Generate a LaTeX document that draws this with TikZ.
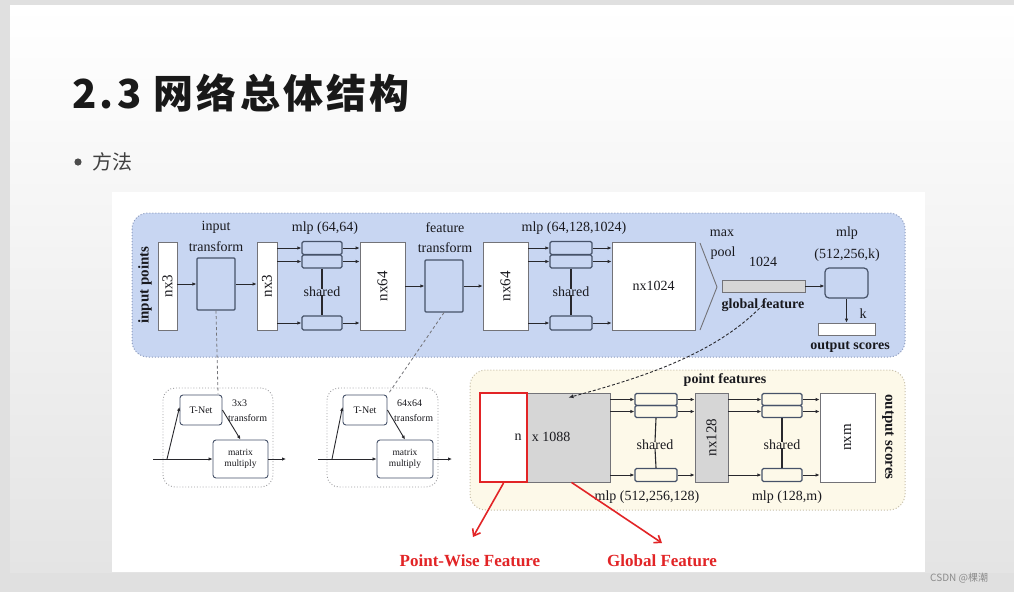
\documentclass[tikz,border=0pt]{standalone}
\usepackage{fontspec}
\setmainfont{Liberation Serif}
\newfontfamily\cjk{Noto Sans CJK SC}
\usetikzlibrary{arrows.meta,calc}
\definecolor{outerbg}{RGB}{224,224,224}
\definecolor{slidebot}{RGB}{228,228,228}
\definecolor{bluebg}{RGB}{200,214,242}
\definecolor{blueedge}{RGB}{140,155,190}
\definecolor{creambg}{RGB}{253,249,233}
\definecolor{creamedge}{RGB}{200,192,170}
\definecolor{linec}{RGB}{40,40,45}
\definecolor{boxedge}{RGB}{115,115,120}
\definecolor{sboxedge}{RGB}{70,82,105}
\definecolor{grayfill}{RGB}{214,214,214}
\definecolor{txt}{RGB}{25,25,30}
\definecolor{redc}{RGB}{226,36,38}
\definecolor{titlec}{RGB}{25,25,25}
\tikzset{
  lbl/.style={font=\fontsize{14}{15}\selectfont, text=txt, inner sep=0pt},
  blbl/.style={font=\bfseries\fontsize{14}{15}\selectfont, text=txt, inner sep=0pt},
  slbl/.style={font=\fontsize{10}{11}\selectfont, text=txt, inner sep=0pt, align=center},
  bigbox/.style={draw=boxedge, fill=white, line width=0.8pt, inner sep=0pt},
  sbox/.style={draw=sboxedge, line width=1.3pt, rounded corners=1.5pt, inner sep=0pt},
  tbox/.style={draw=sboxedge, line width=1.2pt, rounded corners=3pt, inner sep=0pt},
  arr/.style={-{Latex[length=4pt,width=3.5pt]}, line width=0.9pt, draw=linec},
  conn/.style={line width=1.1pt, draw=linec},
  dashc/.style={dashed, dash pattern=on 3pt off 2.5pt, line width=0.8pt, draw=boxedge},
  redarr/.style={-{Straight Barb[length=6pt,width=9pt]}, line width=1.6pt, draw=redc},
}
\begin{document}
\begin{tikzpicture}[x=1pt,y=-1pt]
\useasboundingbox (0,0) rectangle (1014,592);
% backgrounds
\fill[outerbg] (0,0) rectangle (1014,592);
\shade[top color=white, bottom color=slidebot] (10,5) rectangle (1014,572);
\fill[white] (112,192) rectangle (925,572);
% title
\node[anchor=base west, font=\cjk\bfseries\fontsize{40}{44}\selectfont\addfontfeature{LetterSpace=8}, text=titlec, inner sep=0pt] (title) at (72,108) {2.3 网络总体结构};
\fill[black!70] (78,162) circle (3.6);
\node[anchor=west, font=\cjk\fontsize{20}{22}\selectfont, text=black!75, inner sep=0pt] (method) at (92,162) {方法};
% watermark
\node[anchor=west, font=\cjk\fontsize{10}{11}\selectfont, text=black!45, inner sep=0pt] (wm) at (930,578) {CSDN @棵潮};

% region backgrounds
\draw[fill=bluebg, draw=blueedge, dotted, line width=1pt, rounded corners=16pt] (132,213) rectangle (905,357);
\draw[fill=creambg, draw=creamedge, dotted, line width=1pt, rounded corners=16pt] (470,370) rectangle (905,510);

% ---------- classification network ----------
\node[blbl, rotate=90, font=\bfseries\fontsize{15}{16}\selectfont] (inpts) at (145,285) {input points};
\node[bigbox, minimum width=19, minimum height=88] (nx3a) at (167.5,286) {};
\node[lbl, rotate=90, font=\fontsize{15}{16}\selectfont] (nx3at) at (nx3a) {nx3};
\node[tbox, minimum width=38, minimum height=52, rounded corners=1pt] (itrans) at (216,284) {};
\node[lbl] (itl1) at (216,227) {input};
\node[lbl] (itl2) at (216,247) {transform};
\node[bigbox, minimum width=20, minimum height=88] (nx3b) at (267,286) {};
\node[lbl, rotate=90, font=\fontsize{15}{16}\selectfont] (nx3bt) at (nx3b) {nx3};
\draw[arr] (nx3a.east |- itrans.west) -- (itrans.west);
\draw[arr] (itrans.east) -- (nx3b.west |- itrans.east);

% mlp (64,64)
\node[lbl] (mlp1l) at (325,228) {mlp (64,64)};
\node[sbox, minimum width=40, minimum height=13] (m1a) at (322,248) {};
\node[sbox, minimum width=40, minimum height=13] (m1b) at (322,261.5) {};
\node[sbox, minimum width=40, minimum height=14] (m1c) at (322,323) {};
\node[lbl] (sh1) at (322,292) {shared};
\node[bigbox, minimum width=45, minimum height=88] (nx64a) at (382.5,286) {};
\node[lbl, rotate=90, font=\fontsize{15}{16}\selectfont] (nx64at) at (nx64a) {nx64};
\foreach \b in {m1a,m1b,m1c}{
  \draw[arr] (nx3b.east |- \b.west) -- (\b.west);
  \draw[arr] (\b.east) -- (nx64a.west |- \b.east);
}
\draw[conn] (m1b.south) -- ([yshift=-2pt]sh1.north);
\draw[conn] ([yshift=2pt]sh1.south) -- (m1c.north);

% feature transform
\node[tbox, minimum width=38, minimum height=52, rounded corners=1pt] (ftrans) at (444,286) {};
\node[lbl] (ftl1) at (445,228) {feature};
\node[lbl] (ftl2) at (445,248) {transform};
\node[bigbox, minimum width=45, minimum height=88] (nx64b) at (505.5,286) {};
\node[lbl, rotate=90, font=\fontsize{15}{16}\selectfont] (nx64bt) at (nx64b) {nx64};
\draw[arr] (nx64a.east) -- (ftrans.west);
\draw[arr] (ftrans.east) -- (nx64b.west);

% mlp (64,128,1024)
\node[lbl] (mlp2l) at (574,228) {mlp (64,128,1024)};
\node[sbox, minimum width=42, minimum height=13] (m2a) at (571,248) {};
\node[sbox, minimum width=42, minimum height=13] (m2b) at (571,261.5) {};
\node[sbox, minimum width=42, minimum height=14] (m2c) at (571,323) {};
\node[lbl] (sh2) at (571,292) {shared};
\node[bigbox, minimum width=83, minimum height=88] (nx1024) at (653.5,286) {};
\node[lbl] (nx1024t) at (nx1024) {nx1024};
\foreach \b in {m2a,m2b,m2c}{
  \draw[arr] (nx64b.east |- \b.west) -- (\b.west);
  \draw[arr] (\b.east) -- (nx1024.west |- \b.east);
}
\draw[conn] (m2b.south) -- ([yshift=-2pt]sh2.north);
\draw[conn] ([yshift=2pt]sh2.south) -- (m2c.north);

% max pool
\coordinate (mpa) at (700,243);
\coordinate (mpb) at (717,287);
\coordinate (mpc) at (700,330);
\draw[line width=0.9pt, draw=boxedge] (mpa) -- (mpb) -- (mpc);
\node[lbl] (maxl) at (722,233) {max};
\node[lbl] (pooll) at (723,253) {pool};
\node[lbl] (l1024) at (763,262) {1024};
\node[draw=boxedge, fill=grayfill, line width=0.8pt, minimum width=83, minimum height=12, inner sep=0pt] (gf) at (763.5,286) {};
\node[blbl] (gfl) at (763,305) {global feature};
\node[tbox, minimum width=43, minimum height=30, rounded corners=4pt] (mlp3) at (846.5,283) {};
\node[lbl] (mlp3l1) at (847,233) {mlp};
\node[lbl] (mlp3l2) at (847,255) {(512,256,k)};
\draw[arr] (gf.east) -- (mlp3.west |- gf.east);
\node[draw=boxedge, fill=white, line width=0.8pt, minimum width=57, minimum height=12, inner sep=0pt] (outbar) at (846.5,329) {};
\draw[arr] (mlp3.south) -- (outbar.north);
\node[lbl] (kl) at (863,314) {k};
\node[blbl] (outl) at (850,347) {output scores};

% ---------- T-Net insets ----------
\node[draw=boxedge!70, dotted, line width=0.9pt, rounded corners=12pt, minimum width=110, minimum height=99] (tb1) at (218,437.5) {};
\node[tbox, minimum width=42, minimum height=30, line width=0.9pt] (tnet1) at (201,410) {};
\node[slbl] (tnet1t) at (tnet1) {T-Net};
\node[tbox, minimum width=55, minimum height=38, line width=0.9pt] (mm1) at (240.5,459) {};
\node[slbl, font=\fontsize{9.5}{11}\selectfont] (mm1t) at (mm1) {matrix\\multiply};
\node[slbl, anchor=west] (tf1a) at (232,403) {3x3};
\node[slbl, anchor=west] (tf1b) at (228,418) {transform};
\coordinate (in1) at (153,459);
\coordinate (br1) at (167,459);
\coordinate (out1) at (286,459);
\draw[arr] (in1) -- (mm1.west);
\draw[arr] (br1) -- ([yshift=3pt]tnet1.west);
\draw[arr] (tnet1.east) -- (mm1.north);
\draw[arr] (mm1.east) -- (out1);

\node[draw=boxedge!70, dotted, line width=0.9pt, rounded corners=12pt, minimum width=111, minimum height=99] (tb2) at (382.5,437.5) {};
\node[tbox, minimum width=44, minimum height=30, line width=0.9pt] (tnet2) at (365,410) {};
\node[slbl] (tnet2t) at (tnet2) {T-Net};
\node[tbox, minimum width=56, minimum height=38, line width=0.9pt] (mm2) at (405,459) {};
\node[slbl, font=\fontsize{9.5}{11}\selectfont] (mm2t) at (mm2) {matrix\\multiply};
\node[slbl, anchor=west] (tf2a) at (397,403) {64x64};
\node[slbl, anchor=west] (tf2b) at (394,418) {transform};
\coordinate (in2) at (318,459);
\coordinate (br2) at (332,459);
\coordinate (out2) at (452,459);
\draw[arr] (in2) -- (mm2.west);
\draw[arr] (br2) -- ([yshift=3pt]tnet2.west);
\draw[arr] (tnet2.east) -- (mm2.north);
\draw[arr] (mm2.east) -- (out2);

\draw[dashc] (itrans.south) -- ([yshift=-6pt]tb1.north);
\draw[dashc] (ftrans.south) -- ([xshift=6pt,yshift=-6pt]tb2.north);

% ---------- segmentation network ----------
\node[blbl] (pfl) at (725,380) {point features};
\node[draw=boxedge, fill=grayfill, line width=0.8pt, minimum width=83, minimum height=89, inner sep=0pt] (gray) at (568.5,437.5) {};
\node[draw=redc, fill=white, line width=2.2pt, minimum width=47, minimum height=89, inner sep=0pt] (redbox) at (503.5,437.5) {};
\node[lbl] (nl) at (518,437) {n};
\node[lbl] (x1088) at (551,437) {x 1088};

\node[sbox, minimum width=42, minimum height=12] (s1a) at (656,399.5) {};
\node[sbox, minimum width=42, minimum height=12] (s1b) at (656,411.5) {};
\node[sbox, minimum width=42, minimum height=13] (s1c) at (656,475) {};
\node[lbl] (sh3) at (655,445) {shared};
\node[draw=boxedge, fill=grayfill, line width=0.8pt, minimum width=33, minimum height=89, inner sep=0pt] (nx128) at (711.5,437.5) {};
\node[lbl, rotate=90, font=\fontsize{15}{16}\selectfont] (nx128t) at (nx128) {nx128};
\foreach \b in {s1a,s1b,s1c}{
  \draw[arr] (gray.east |- \b.west) -- (\b.west);
  \draw[arr] (\b.east) -- (nx128.west |- \b.east);
}
\draw[conn] (s1b.south) -- ([yshift=-2pt]sh3.north);
\draw[conn] ([yshift=2pt]sh3.south) -- (s1c.north);
\node[lbl] (mlp4l) at (647,497) {mlp (512,256,128)};

\node[sbox, minimum width=40, minimum height=12] (s2a) at (782,399.5) {};
\node[sbox, minimum width=40, minimum height=12] (s2b) at (782,411.5) {};
\node[sbox, minimum width=40, minimum height=13] (s2c) at (782,475) {};
\node[lbl] (sh4) at (782,445) {shared};
\node[bigbox, minimum width=55, minimum height=89] (nxm) at (847.5,437.5) {};
\node[lbl, rotate=90, font=\fontsize{15}{16}\selectfont] (nxmt) at (nxm) {nxm};
\foreach \b in {s2a,s2b,s2c}{
  \draw[arr] (nx128.east |- \b.west) -- (\b.west);
  \draw[arr] (\b.east) -- (nxm.west |- \b.east);
}
\draw[conn] (s2b.south) -- ([yshift=-2pt]sh4.north);
\draw[conn] ([yshift=2pt]sh4.south) -- (s2c.north);
\node[lbl] (mlp5l) at (787,497) {mlp (128,m)};
\node[blbl, rotate=-90, font=\bfseries\fontsize{15}{16}\selectfont] (segout) at (888,437) {output scores};

% global feature -> point features
\draw[dashed, dash pattern=on 3pt off 2pt, line width=0.9pt, draw=linec, -{Latex[length=5pt,width=4pt]}]
  ([yshift=7pt]gfl.south) .. controls (715,355) and (640,378) .. ([yshift=-5pt]gray.north);

% red annotations
\coordinate (pwend) at (473,537);
\coordinate (gfend) at (662,543);
\draw[redarr] (redbox.south) -- (pwend);
\draw[redarr] ([xshift=3pt]gray.south) -- (gfend);
\node[font=\bfseries\fontsize{17}{18}\selectfont, text=redc, inner sep=0pt] (pwl) at (470,561) {Point-Wise Feature};
\node[font=\bfseries\fontsize{17}{18}\selectfont, text=redc, inner sep=0pt] (gfl2) at (662,561) {Global Feature};
\end{tikzpicture}
\end{document}
